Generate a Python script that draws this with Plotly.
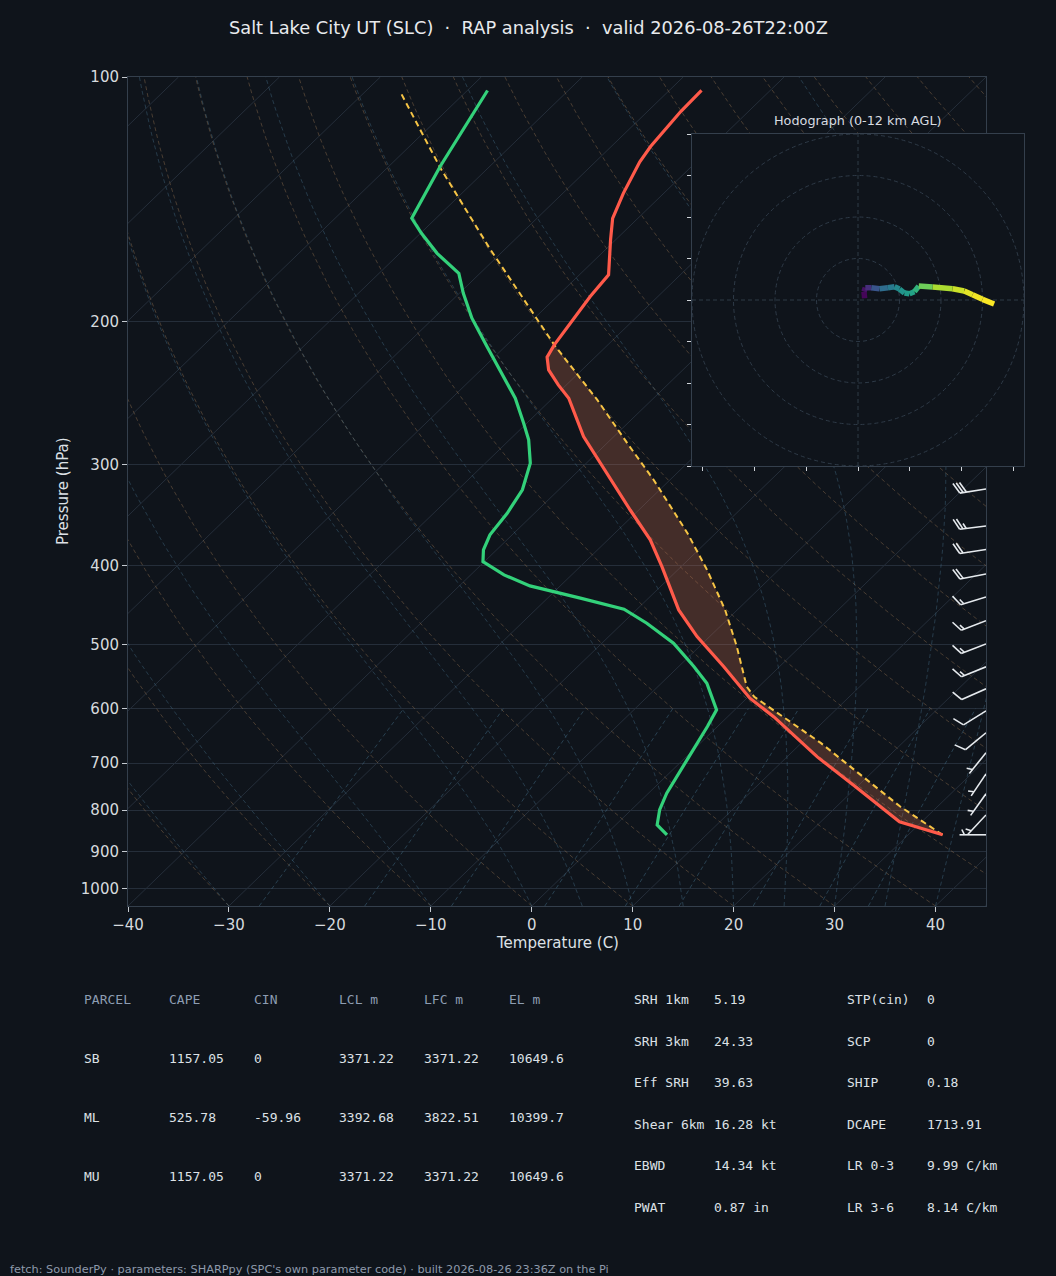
import numpy as np
import plotly.graph_objects as go
from plotly.colors import sample_colorscale

# ---------------- data ----------------
# environmental temperature profile (hPa, degC), top -> bottom
env_p = [103.9, 110.3, 121.8, 127.2, 139.1, 149.3, 158.7, 175.3, 186.4, 198.2,
         213.8, 221.4, 229.5, 239.5, 248.7, 277.3, 309.1, 341.5, 371.7, 401.0,
         453.4, 489.0, 532.3, 582.4, 614.1, 687.9, 744.6, 827.0, 858.0]
env_t = [-66.8, -66.7, -66.1, -65.6, -64.0, -62.5, -60.5, -57.1, -56.7, -56.1,
         -55.3, -54.75, -53.3, -50.8, -48.4, -43.0, -36.7, -30.85, -25.8, -21.9,
         -15.8, -11.25, -5.55, 0.3, 4.6, 13.0, 19.4, 27.8, 33.4]

# dewpoint profile (hPa, degC), top -> bottom
dew_p = [103.9, 128.9, 149.3, 155.8, 164.9, 174.5, 184.7, 198.2, 214.8, 231.7,
         248.7, 267.0, 279.9, 299.0, 322.5, 344.7, 366.4, 382.4, 395.3, 410.5,
         423.5, 438.5, 452.4, 470.8, 498.3, 532.3, 558.1, 602.0, 631.1, 693.7,
         762.4, 799.1, 834.1, 858.1]
dew_t = [-88.0, -84.9, -82.4, -79.9, -76.3, -72.1, -69.6, -66.2, -61.8, -57.6,
         -53.7, -50.3, -48.1, -45.55, -43.6, -42.7, -42.2, -41.3, -40.15, -36.7,
         -33.0, -26.75, -21.3, -17.6, -12.9, -8.5, -5.5, -1.8, -1.0, 0.4,
         1.8, 2.8, 4.1, 6.1]

# surface-based parcel trace (hPa, degC), bottom -> top
parcel_p = [858.1, 791.9, 661.1, 580.2, 563.6, 502.9, 453.4, 404.7, 364.7, 313.6,
            282.5, 249.9, 213.8, 162.6, 129.5, 104.5]
parcel_t = [33.4, 26.3, 11.9, 0.6, -1.2, -6.3, -11.2, -17.1, -22.8, -31.6,
            -38.0, -45.4, -55.3, -71.6, -84.7, -96.4]
el_pressure = 213.8

# wind barbs (hPa, direction deg, speed kt)
barb_p = [321.7, 357.4, 382.0, 409.4, 437.0, 467.5, 499.3, 532.8, 567.0, 603.6,
          642.5, 680.0, 721.8, 763.8, 811.0, 858.0]
barb_dir = [261, 263, 261.5, 259, 253, 249, 249, 248, 246, 238,
            230.5, 219, 214, 215.5, 223, 270]
barb_spd = [30, 25, 20, 20, 15, 15, 15, 15, 10, 10, 10, 5, 5, 5, 5, 5]

# hodograph (u, v) and height (km AGL)
hodo_u = [1.6, 1.44, 1.76, 3.2, 5.2, 7.2, 8.8, 10.0, 11.2, 12.4, 13.6, 14.64,
          18.0, 22.8, 25.6, 27.6, 30.0, 32.8]
hodo_v = [0.4, 2.0, 2.96, 2.96, 2.72, 2.96, 3.2, 2.64, 1.68, 1.5, 2.0, 3.36,
          3.12, 2.72, 2.16, 1.28, 0.16, -0.96]
hodo_h = [0.0, 0.36, 0.72, 2.4, 4.0, 4.56, 5.28, 6.0, 6.36, 6.72, 7.08, 8.4,
          10.2, 10.8, 11.4, 11.64, 11.88, 12.0]

# axes ticks
t_ticks = [-40, -30, -20, -10, 0, 10, 20, 30, 40]
p_ticks = [100, 200, 300, 400, 500, 600, 700, 800, 900, 1000]
hodo_yticks = [-40, -30, -20, -10, 0, 10, 20, 30, 40]
hodo_xticks = [-37.5, -25, -12.5, 0, 12.5, 25, 37.5]
hodo_rings = [10, 20, 30, 40]

# tables
parcel_header = ["PARCEL", "CAPE", "CIN", "LCL m", "LFC m", "EL m"]
parcel_rows = [["SB", "1157.05", "0", "3371.22", "3371.22", "10649.6"],
               ["ML", "525.78", "-59.96", "3392.68", "3822.51", "10399.7"],
               ["MU", "1157.05", "0", "3371.22", "3371.22", "10649.6"]]
idx_labels_a = ["SRH 1km", "SRH 3km", "Eff SRH", "Shear 6km", "EBWD", "PWAT"]
idx_values_a = ["5.19", "24.33", "39.63", "16.28 kt", "14.34 kt", "0.87 in"]
idx_labels_b = ["STP(cin)", "SCP", "SHIP", "DCAPE", "LR 0-3", "LR 3-6"]
idx_values_b = ["0", "0", "0.18", "1713.91", "9.99 C/km", "8.14 C/km"]

title_text = "Salt Lake City UT (SLC)\u00a0 · \u00a0RAP analysis\u00a0 · \u00a0valid 2026-08-26T22:00Z"
footer_text = "fetch: SounderPy · parameters: SHARPpy (SPC's own parameter code) · built 2026-08-26 23:36Z on the Pi"

# ---------------- layout constants ----------------
W, H = 1056, 1276
BG = "#0f141b"
FRAME = "#343f4c"
TMIN, TMAX = -40, 45
PBOT, PTOP = 1050.0, 100.0
MAIN_L, MAIN_R, MAIN_T, MAIN_B = 128, 986, 77, 906
HOD_L, HOD_R, HOD_T, HOD_B = 692, 1024, 134, 466

PX_PER_X = (MAIN_R - MAIN_L) / (TMAX - TMIN)
PX_PER_DEC = (MAIN_B - MAIN_T) / np.log10(PBOT / PTOP)


def skew(t, p):
    t = np.asarray(t, dtype=float)
    p = np.asarray(p, dtype=float)
    return t + (TMAX - TMIN) * np.log10(PBOT / p) / np.log10(PBOT / PTOP)


def px(x):
    return x / W


def py(y):
    return 1 - y / H


def join(lines):
    xs, ys = [], []
    for x, y in lines:
        xs += list(x) + [None]
        ys += list(y) + [None]
    return xs, ys


fig = go.Figure()

# ---------------- background reference lines ----------------
pres = np.geomspace(PBOT, PTOP, 70)

iso = [(skew([t, t], [PBOT, PTOP]), [PBOT, PTOP]) for t in range(-130, 41, 10)]
xs, ys = join(iso)
fig.add_trace(go.Scatter(x=xs, y=ys, mode="lines", line=dict(color="#252e3a", width=1)))

dry = []
for t0 in range(-40, 246, 10):
    tt = (t0 + 273.15) * (pres / PBOT) ** 0.2857 - 273.15
    dry.append((skew(tt, pres), pres))
xs, ys = join(dry)
fig.add_trace(go.Scatter(x=xs, y=ys, mode="lines",
                         line=dict(color="rgba(160,122,84,0.40)", width=1, dash="4px,3px")))


def moist_lapse(t0c, pr):
    Rd, Cp, Lv, eps = 287.04, 1005.7, 2.501e6, 0.622

    def es(T):
        return 6.112 * np.exp(17.67 * (T - 273.15) / (T - 29.65))

    def f(p, T):
        e = es(T)
        rs = eps * e / (p - e)
        return (Rd * T + Lv * rs) / (p * (Cp + Lv * Lv * rs * eps / (Rd * T * T)))

    T = t0c + 273.15
    out = [T]
    for i in range(len(pr) - 1):
        p, h = pr[i], pr[i + 1] - pr[i]
        k1 = f(p, T)
        k2 = f(p + h / 2, T + h * k1 / 2)
        k3 = f(p + h / 2, T + h * k2 / 2)
        k4 = f(p + h, T + h * k3)
        T = T + h * (k1 + 2 * k2 + 2 * k3 + k4) / 6
        out.append(T)
    return np.array(out) - 273.15


moist = []
for t0 in list(range(-40, 0, 10)) + list(range(0, 46, 5)):
    moist.append((skew(moist_lapse(t0, pres), pres), pres))
xs, ys = join(moist)
fig.add_trace(go.Scatter(x=xs, y=ys, mode="lines",
                         line=dict(color="rgba(72,118,145,0.40)", width=1, dash="4px,3px")))

mix = []
pm = np.linspace(PBOT, 600, 20)
for w in [0.0004, 0.001, 0.002, 0.004, 0.007, 0.01, 0.016, 0.024, 0.032]:
    e = pm * w / (0.622 + w)
    ln = np.log(e / 6.112)
    td = 243.5 * ln / (17.67 - ln)
    mix.append((skew(td, pm), pm))
xs, ys = join(mix)
fig.add_trace(go.Scatter(x=xs, y=ys, mode="lines",
                         line=dict(color="rgba(72,118,145,0.45)", width=1, dash="4px,3px")))

# ---------------- CAPE shading ----------------
fp = [p for p in parcel_p if p >= el_pressure]
ft = parcel_t[:len(fp)]
ep = [p for p in env_p if p >= el_pressure]
et = env_t[len(env_p) - len(ep):]
poly_p = fp + ep
poly_t = ft + et
fig.add_trace(go.Scatter(x=skew(poly_t, poly_p), y=poly_p, mode="lines", fill="toself",
                         fillcolor="rgba(228,118,82,0.25)", line=dict(width=0)))

# ---------------- profiles ----------------
fig.add_trace(go.Scatter(x=skew(parcel_t, parcel_p), y=parcel_p, mode="lines",
                         line=dict(color="#f6c445", width=2, dash="6px,4px")))
fig.add_trace(go.Scatter(x=skew(dew_t, dew_p), y=dew_p, mode="lines",
                         line=dict(color="#33d17a", width=3.2)))
fig.add_trace(go.Scatter(x=skew(env_t, env_p), y=env_p, mode="lines",
                         line=dict(color="#ff5a4a", width=3.2)))

# ---------------- wind barbs ----------------
L = 26.5
FULL = 0.4 * L
SP = 0.125 * L
bx, by = [], []


def to_data(p0, dx, dy):
    return TMAX + dx / PX_PER_X, p0 * 10 ** (dy / PX_PER_DEC)


for p0, d, s in zip(barb_p, barb_dir, barb_spd):
    th = np.radians(d)
    ux, uy = np.sin(th), np.cos(th)          # toward source, math coords
    nx, ny = uy, -ux                          # feather side
    tail = (L * ux, L * uy)
    segs = [[(0, 0), tail]]
    nfull = int(s // 10)
    half = (s % 10) >= 5
    off = 0.0
    for i in range(nfull):
        base = (tail[0] - off * ux, tail[1] - off * uy)
        segs.append([base, (base[0] + FULL * nx + 0.5 * FULL * ux,
                            base[1] + FULL * ny + 0.5 * FULL * uy)])
        off += SP
    if half:
        if off == 0:
            off = 1.5 * SP
        base = (tail[0] - off * ux, tail[1] - off * uy)
        segs.append([base, (base[0] + 0.5 * FULL * nx + 0.25 * FULL * ux,
                            base[1] + 0.5 * FULL * ny + 0.25 * FULL * uy)])
    for sg in segs:
        for a, b in sg:
            X, P = to_data(p0, a, -b)
            bx.append(X)
            by.append(P)
        bx.append(None)
        by.append(None)

fig.add_trace(go.Scatter(x=bx, y=by, mode="lines", line=dict(color="#e6eaee", width=1.6)))

# ---------------- hodograph ----------------
hmax = 12.0
for i in range(len(hodo_u) - 1):
    frac = (hodo_h[i] + hodo_h[i + 1]) / 2 / hmax
    col = sample_colorscale("Viridis", [frac])[0]
    fig.add_trace(go.Scatter(x=hodo_u[i:i + 2], y=hodo_v[i:i + 2], mode="lines",
                             line=dict(color=col, width=5.5),
                             xaxis="x2", yaxis="y2"))

shapes = [dict(type="rect", xref="x2", yref="y2", x0=-40, x1=40, y0=-40, y1=40,
               fillcolor=BG, line=dict(width=0), layer="below")]
for r in hodo_rings:
    shapes.append(dict(type="circle", xref="x2", yref="y2", x0=-r, x1=r, y0=-r, y1=r,
                       line=dict(color="#2e3a47", width=1, dash="4px,3px"), layer="below"))
shapes.append(dict(type="line", xref="x2", yref="y2", x0=0, x1=0, y0=-40, y1=40,
                   line=dict(color="#2e3a47", width=1, dash="4px,3px"), layer="below"))
shapes.append(dict(type="line", xref="x2", yref="y2", x0=-40, x1=40, y0=0, y1=0,
                   line=dict(color="#2e3a47", width=1, dash="4px,3px"), layer="below"))

# ---------------- annotations ----------------
ann = []
TXT = "#dde1e6"


def note(x, y, text, size, color, family="DejaVu Sans", xanchor="left", **kw):
    ann.append(dict(x=px(x), y=py(y), xref="paper", yref="paper", text=text,
                    showarrow=False, font=dict(family=family, size=size, color=color),
                    xanchor=xanchor, yanchor="middle", borderpad=0, **kw))


note(528, 27, title_text, 17.8, "#e8eaed", xanchor="center")
note(858, 120, "Hodograph (0-12 km AGL)", 12.8, "#d8dce1", xanchor="center")
note(63, 491, "Pressure (hPa)", 15, TXT, xanchor="center", textangle=-90)
note(557, 943, "Temperature (C)", 15, TXT, xanchor="center")

MONO = "DejaVu Sans Mono"
col_x = [83, 168, 253, 338, 423, 508]
row_y = [999, 1058, 1117, 1176]
for cx, t in zip(col_x, parcel_header):
    note(cx, row_y[0], t, 13, "#8d9db2", family=MONO)
for ry, row in zip(row_y[1:], parcel_rows):
    for cx, t in zip(col_x, row):
        note(cx, ry, t, 13, TXT, family=MONO)

idx_y = [999, 1041, 1082, 1124, 1165, 1207]
for colx, texts in zip([633, 713, 846, 926], [idx_labels_a, idx_values_a, idx_labels_b, idx_values_b]):
    for ry, t in zip(idx_y, texts):
        note(colx, ry, t, 13, TXT, family=MONO)

note(9, 1269, footer_text, 11.3, "#8e9aab")

# ---------------- layout ----------------
fig.update_layout(
    width=W, height=H, autosize=False,
    margin=dict(l=0, r=0, t=0, b=0, pad=0),
    paper_bgcolor=BG, plot_bgcolor=BG,
    showlegend=False, hovermode=False,
    font=dict(family="DejaVu Sans", color=TXT),
    xaxis=dict(domain=[px(MAIN_L), px(MAIN_R)], range=[TMIN, TMAX], anchor="y",
               automargin=False,
               tickvals=t_ticks, ticktext=[str(t).replace("-", "\u2212") for t in t_ticks],
               ticks="outside", ticklen=5, tickwidth=1, tickcolor="#c5cad0",
               tickfont=dict(size=15, color="#d6dade"),
               showgrid=False, zeroline=False,
               showline=True, mirror=True, linecolor=FRAME, linewidth=1),
    yaxis=dict(domain=[py(MAIN_B), py(MAIN_T)], type="log",
               range=[np.log10(PBOT), np.log10(PTOP)], anchor="x",
               automargin=False,
               tickvals=p_ticks, ticktext=[str(p) for p in p_ticks],
               ticks="outside", ticklen=5, tickwidth=1, tickcolor="#c5cad0",
               tickfont=dict(size=15, color="#d6dade"),
               showgrid=True, gridcolor="#252e3a", gridwidth=1, zeroline=False,
               showline=True, mirror=True, linecolor=FRAME, linewidth=1),
    xaxis2=dict(domain=[px(HOD_L), px(HOD_R)], range=[-40, 40], anchor="y2",
                automargin=False,
                tickvals=hodo_xticks, showticklabels=False,
                ticks="outside", ticklen=4, tickwidth=1, tickcolor="#d0d4d9",
                showgrid=False, zeroline=False,
                showline=True, mirror=True, linecolor=FRAME, linewidth=1),
    yaxis2=dict(domain=[py(HOD_B), py(HOD_T)], range=[-40, 40], anchor="x2",
                automargin=False,
                tickvals=hodo_yticks, showticklabels=False,
                ticks="outside", ticklen=4, tickwidth=1, tickcolor="#d0d4d9",
                showgrid=False, zeroline=False,
                showline=True, mirror=True, linecolor=FRAME, linewidth=1),
    shapes=shapes,
    annotations=ann,
)

fig.write_html("out.html", config={"displayModeBar": False},
               post_script="document.body.style.margin='0';")
